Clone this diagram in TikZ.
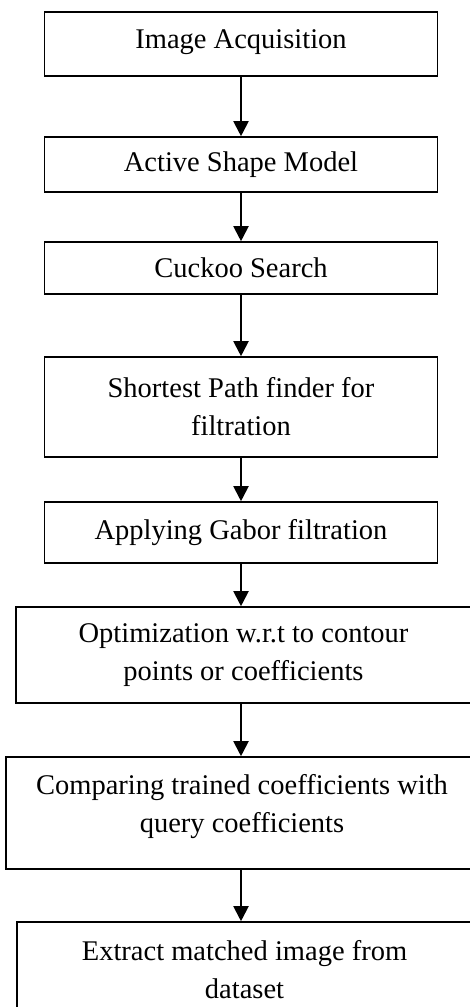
\documentclass[tikz,border=0pt]{standalone}
\usepackage{fontspec}
\setmainfont{Liberation Serif}
\usepackage{tikz}
\usetikzlibrary{arrows.meta}
\tikzstyle{stage}=[draw,line width=0.8pt,rectangle,align=center,inner sep=0pt,font=\fontsize{14.25}{19}\selectfont]
\tikzstyle{narrow}=[stage,minimum width=196.5pt]
\tikzstyle{flow}=[line width=1pt,-{Triangle[length=7.5pt,width=7.5pt]}]

\begin{document}
\begin{tikzpicture}[x=1pt,y=-1pt]
    \clip (0,0) rectangle (235,503.5);
    \useasboundingbox (0,0) rectangle (235,503.5);
    % the steps, top to bottom
    \node[narrow,minimum height=32pt,text depth=5pt] (acq) at (120.5,22) {Image Acquisition};
    \node[narrow,minimum height=27.5pt] (asm) at (120.5,82.25) {Active Shape Model};
    \node[narrow,minimum height=26pt] (cuckoo) at (120.5,134) {Cuckoo Search};
    \node[narrow,minimum height=50pt] (path) at (120.5,203.5) {Shortest Path finder for\\filtration};
    \node[narrow,minimum height=30.5pt] (gabor) at (120.5,266.25) {Applying Gabor filtration};
    \node[stage,minimum width=227.5pt,minimum height=48pt] (optim) at (121.75,327.5) {Optimization w.r.t to contour\\points or coefficients};
    \node[stage,minimum width=236pt,minimum height=56pt,text depth=10pt] (compare) at (121,406.5) {Comparing trained coefficients with\\query coefficients};
    \node[stage,minimum width=227.5pt,minimum height=48pt] (extract) at (122.25,485) {Extract matched image from\\dataset};
    % arrows between the steps
    \foreach \from/\to in {acq/asm,asm/cuckoo,cuckoo/path,path/gabor,gabor/optim,optim/compare,compare/extract}
        \draw[flow] (acq.south |- \from.south) -- (acq.south |- \to.north);
  \end{tikzpicture}
\end{document}
